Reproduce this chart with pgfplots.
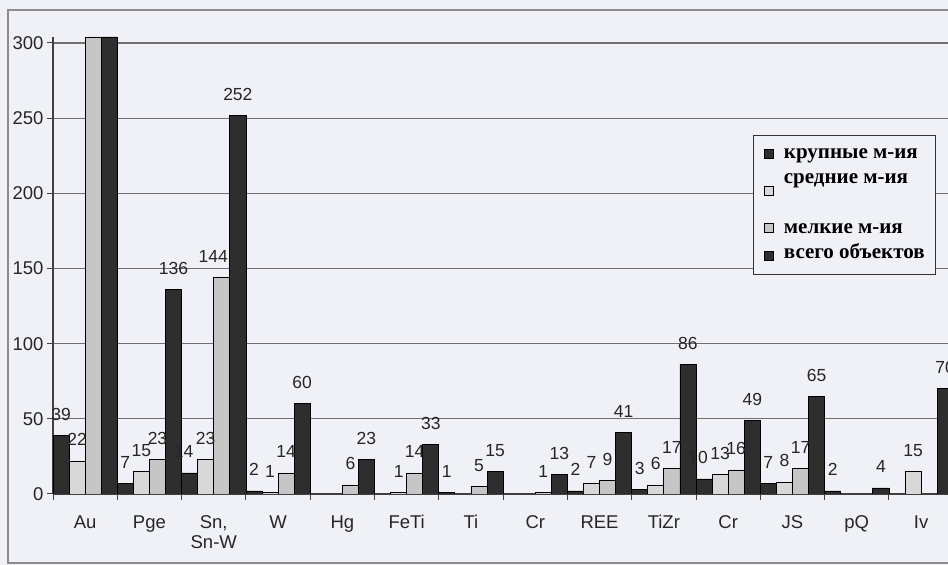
\documentclass[border=0pt]{standalone}
\usepackage{fontspec}
\setmainfont{Liberation Sans}
\newfontfamily\legfont{Liberation Serif}
\usepackage{pgfplots}
\pgfplotsset{compat=1.18}
\definecolor{bg}{HTML}{EFF1F6}
\definecolor{darkbar}{HTML}{2E2E2E}
\definecolor{midbar}{HTML}{D8D8D8}
\definecolor{smallbar}{HTML}{C6C6C6}
\definecolor{gridc}{HTML}{707070}
\definecolor{framec}{HTML}{8C8C8C}
\begin{document}
\begin{tikzpicture}[x=1bp,y=1bp]
\useasboundingbox (0,0) rectangle (948,565);
\clip (0,0) rectangle (948,565);
\fill[bg] (0,0) rectangle (948,565);
\draw[framec, line width=1.2bp] (8,2) rectangle (990,555);
\begin{axis}[
  at={(53bp,71bp)}, anchor=south west,
  scale only axis, width=900.2bp, height=457bp,
  xmin=-0.5, xmax=13.5, ymin=0, ymax=304,
  ybar=0pt, bar width=16.075bp,
  axis x line*=bottom, axis y line*=left,
  axis line style={black!75, line width=1.2bp, -},
  ytick={0,50,...,300},
  ymajorgrids, grid style={gridc, line width=1.2bp},
  xtick={-0.5,0.5,...,13.5}, xticklabels={},
  extra x ticks={0,1,...,13},
  extra x tick labels={Au,Pge,{Sn,\\Sn-W},W,Hg,FeTi,Ti,Cr,REE,TiZr,Cr,JS,pQ,Iv},
  extra x tick style={tick style={draw=none}, tick label style={yshift=-12bp}},
  x tick label style={align=center},
  tick align=outside, major tick length=6bp,
  tick style={black!75, line width=1bp},
  ticklabel style={font=\fontsize{18.5bp}{20bp}\selectfont, text=black!85},
  /pgf/number format/assume math mode=true,
  point meta=explicit symbolic,
  nodes near coords={\pgfplotspointmeta},
  nodes near coords style={font=\fontsize{17.5bp}{20bp}\selectfont, text=black!85, inner sep=0pt, anchor=base, yshift=15bp},
  legend cell align=left,
  legend style={at={(0.7776,0.7856)}, anchor=north west,
    draw=black!80, line width=1bp, fill=bg,
    inner xsep=10.5bp, inner ysep=7bp, row sep=0pt, column sep=0pt,
    font=\legfont\bfseries\fontsize{21bp}{24bp}\selectfont,
    nodes={inner sep=0pt, text height=16bp, text depth=9bp},
    cells={anchor=base west}},
  clip=true,
]
\addplot[fill=darkbar, draw=black, line width=0.8bp,
  legend image code/.code={\draw[fill=darkbar, draw=black, line width=0.8bp] (0bp,0bp) rectangle (9bp,9bp); \path[draw=none, fill=none] (9bp,0bp) -- (19.5bp,0bp);}]
  coordinates {(0,39)[39] (1,7)[7] (2,14)[\hspace*{-12bp}14] (3,2)[2] (6,1)[1] (8,2)[2] (9,3)[3] (10,10)[\hspace*{-12bp}10] (11,7)[7] (12,2)[2]};
\addlegendentry{крупные м-ия}
\addplot[fill=midbar, draw=black, line width=0.8bp,
  legend image code/.code={\draw[fill=midbar, draw=black, line width=0.8bp] (0bp,-12bp) rectangle (9bp,-3bp); \path[draw=none, fill=none] (9bp,0bp) -- (19.5bp,0bp);}]
  coordinates {(0,22)[22] (1,15)[15] (2,23)[23] (3,1)[1] (5,1)[1] (8,7)[7] (9,6)[6] (10,13)[13] (11,8)[8] (13,15)[15]};
\addlegendentry[text depth=34bp]{средние м-ия}
\addplot[fill=smallbar, draw=black, line width=0.8bp,
  legend image code/.code={\draw[fill=smallbar, draw=black, line width=0.8bp] (0bp,1bp) rectangle (9bp,10bp); \path[draw=none, fill=none] (9bp,0bp) -- (19.5bp,0bp);}]
  coordinates {(0,304)[\relax] (1,23)[23] (2,144)[\hspace*{-17bp}144] (3,14)[14] (4,6)[6] (5,14)[14] (6,5)[5] (7,1)[1] (8,9)[9] (9,17)[17] (10,16)[16] (11,17)[17]};
\addlegendentry{мелкие м-ия}
\addplot[fill=darkbar, draw=black, line width=0.8bp,
  legend image code/.code={\draw[fill=darkbar, draw=black, line width=0.8bp] (0bp,-2bp) rectangle (9bp,7bp); \path[draw=none, fill=none] (9bp,0bp) -- (19.5bp,0bp);}]
  coordinates {(0,304)[\relax] (1,136)[136] (2,252)[252] (3,60)[60] (4,23)[23] (5,33)[33] (6,15)[15] (7,13)[13] (8,41)[41] (9,86)[86] (10,49)[49] (11,65)[65] (12,4)[4] (13,70)[70]};
\addlegendentry{всего объектов}
\end{axis}
\end{tikzpicture}
\end{document}
